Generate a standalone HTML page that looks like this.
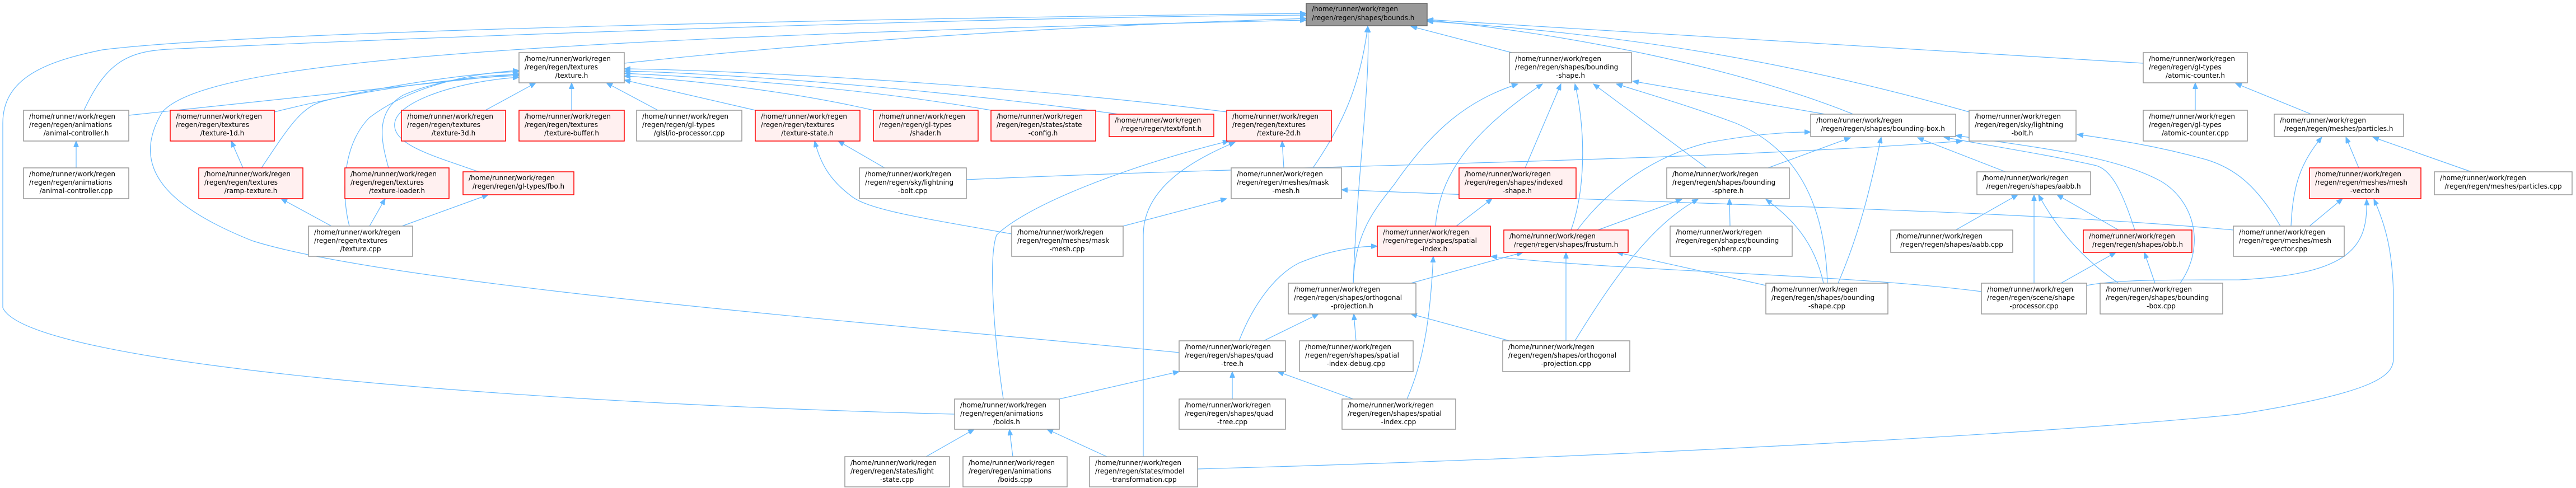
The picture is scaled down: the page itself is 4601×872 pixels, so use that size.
<!DOCTYPE html>
<html><head><meta charset="utf-8"><style>
html,body{margin:0;padding:0;background:#fff;}
svg{display:block;}
text{font-family:"DejaVu Sans","Liberation Sans",sans-serif;font-size:12px;fill:#000;}
.e{fill:none;stroke:#63b8ff;stroke-width:1.2;}
.n{fill:#fff;stroke:#999;stroke-width:1.5;}
.r{fill:#fff0f0;stroke:#ff0000;stroke-width:1.5;}
.g{fill:#999;stroke:#666;stroke-width:1.5;}
</style></head><body>
<svg width="4601" height="872" viewBox="0 0 4601 872" xmlns="http://www.w3.org/2000/svg">
<defs><marker id="a" markerUnits="userSpaceOnUse" markerWidth="12" markerHeight="9" refX="11" refY="4.5" orient="auto"><path d="M0,0 L11,4.5 L0,9 z" fill="#63b8ff" stroke="#63b8ff"/></marker></defs>
<g marker-end="url(#a)">
<path class="e" d="M1115,113 C1600,60 2100,40 2333,33"/>
<path class="e" d="M150,197 C190,110 230,92 300,88 C900,60 1800,30 2333,27"/>
<path class="e" d="M1705,740 C900,720 50,650 5,550 L5,220 C5,140 80,110 183,89 C500,50 1800,30 2333,24"/>
<path class="e" d="M2106,630 C1600,580 700,510 450,430 C300,370 230,300 290,200 C360,120 800,70 2333,36"/>
<path class="e" d="M2345,300 C2400,220 2430,150 2443,47"/>
<path class="e" d="M2417,506 C2425,300 2448,150 2443,47"/>
<path class="e" d="M2700,94 L2520,47"/>
<path class="e" d="M3310,204 C3100,120 2800,60 2549,36"/>
<path class="e" d="M3517,200 C3200,110 2900,60 2549,38"/>
<path class="e" d="M3828,113 L2549,35"/>
<path class="e" d="M1792,713 C1775,600 1765,460 1780,420 C1830,370 2000,300 2195,252"/>
<path class="e" d="M2042,816 L2042,420 C2042,340 2120,290 2206,254"/>
<path class="e" d="M2139,838 C2800,820 3600,780 4000,740 C4250,700 4275,670 4275,640 L4275,540 C4275,450 4260,400 4240,356"/>
<path class="e" d="M230,206 L927,132"/>
<path class="e" d="M490,200 C650,160 800,140 927,135"/>
<path class="e" d="M467,300 C520,220 540,190 580,180 C700,150 850,130 927,128"/>
<path class="e" d="M624,404 C610,350 610,260 660,210 C740,150 850,130 927,126"/>
<path class="e" d="M694,300 C680,250 670,200 720,170 C790,140 860,135 927,133"/>
<path class="e" d="M855,307 C780,280 700,260 705,220 C710,180 820,145 927,138"/>
<path class="e" d="M867,197 L957,148"/>
<path class="e" d="M1021,197 L1021,148"/>
<path class="e" d="M1175,197 L1083,148"/>
<path class="e" d="M1349,197 L1115,143"/>
<path class="e" d="M1560,197 C1400,160 1200,140 1115,136"/>
<path class="e" d="M1770,197 C1500,150 1200,135 1115,131"/>
<path class="e" d="M1998,204 C1600,150 1250,130 1115,127"/>
<path class="e" d="M2191,200 C1800,150 1300,125 1115,123"/>
<path class="e" d="M136,300 L136,252"/>
<path class="e" d="M434,300 L413,252"/>
<path class="e" d="M592,404 L502,355"/>
<path class="e" d="M660,404 L688,355"/>
<path class="e" d="M718,404 L872,348"/>
<path class="e" d="M1580,300 L1497,252"/>
<path class="e" d="M1807,418 C1650,390 1550,375 1520,350 C1480,320 1465,290 1455,252"/>
<path class="e" d="M2293,300 L2290,252"/>
<path class="e" d="M2006,404 L2191,355"/>
<path class="e" d="M1726,321 C2300,295 3000,290 3505,252"/>
<path class="e" d="M3989,411 C3600,375 3000,365 2396,339"/>
<path class="e" d="M1892,713 L2106,664"/>
<path class="e" d="M2201,713 L2201,664"/>
<path class="e" d="M1654,816 L1740,767"/>
<path class="e" d="M1809,816 L1803,767"/>
<path class="e" d="M1977,816 L1870,767"/>
<path class="e" d="M2417,713 L2282,664"/>
<path class="e" d="M2257,609 L2355,561"/>
<path class="e" d="M2213,609 C2240,540 2280,490 2320,470 C2380,445 2430,440 2460,440"/>
<path class="e" d="M2417,506 C2420,420 2450,380 2490,330 C2560,230 2620,180 2711,150"/>
<path class="e" d="M2564,404 C2570,320 2620,240 2755,150"/>
<path class="e" d="M2724,300 L2788,150"/>
<path class="e" d="M2806,411 C2835,330 2830,220 2813,150"/>
<path class="e" d="M3048,300 L2846,150"/>
<path class="e" d="M3264,506 C3260,380 3220,270 3100,220 C3020,190 2950,170 2887,150"/>
<path class="e" d="M3260,204 L2916,145"/>
<path class="e" d="M2601,404 L2665,355"/>
<path class="e" d="M2520,506 L2720,451"/>
<path class="e" d="M2797,609 L2797,451"/>
<path class="e" d="M3154,510 L2888,451"/>
<path class="e" d="M2513,713 C2545,640 2555,560 2560,458"/>
<path class="e" d="M3539,521 C3300,490 2900,485 2663,458"/>
<path class="e" d="M2817,411 C2870,340 2950,280 3050,255 C3130,240 3190,236 3234,236"/>
<path class="e" d="M3158,300 L3305,246"/>
<path class="e" d="M3283,506 C3320,420 3340,340 3360,245"/>
<path class="e" d="M2854,411 L3004,356"/>
<path class="e" d="M3090,404 L3089,355"/>
<path class="e" d="M2813,609 C2880,500 2950,400 3033,356"/>
<path class="e" d="M3257,506 C3240,430 3200,390 3154,356"/>
<path class="e" d="M2422,609 L2418,561"/>
<path class="e" d="M2696,609 L2520,561"/>
<path class="e" d="M3582,307 L3425,246"/>
<path class="e" d="M3813,411 C3790,340 3770,300 3740,295 C3650,275 3550,260 3472,245"/>
<path class="e" d="M3894,506 C3940,440 3920,360 3860,324 C3780,280 3650,265 3493,242"/>
<path class="e" d="M3493,411 L3604,348"/>
<path class="e" d="M3633,506 L3633,348"/>
<path class="e" d="M3784,506 C3730,470 3680,420 3641,348"/>
<path class="e" d="M3784,411 L3674,348"/>
<path class="e" d="M3681,506 L3779,451"/>
<path class="e" d="M3849,506 L3830,451"/>
<path class="e" d="M4125,404 L4184,355"/>
<path class="e" d="M3727,510 C3780,500 3850,500 4000,500 C4200,490 4230,440 4227,356"/>
<path class="e" d="M4092,404 C4095,330 4110,290 4147,245"/>
<path class="e" d="M4213,300 L4190,245"/>
<path class="e" d="M4414,307 L4238,245"/>
<path class="e" d="M3921,197 L3921,148"/>
<path class="e" d="M4128,204 L3993,149"/>
<path class="e" d="M4073,404 C4030,330 3990,300 3940,285 C3850,260 3780,250 3710,240"/>
</g>

<!-- nodes -->
<rect class="g" x="2333" y="6" width="216" height="40"/><text x="2343" y="20">/home/runner/work/regen</text><text x="2343" y="36">/regen/regen/shapes/bounds.h</text>

<rect class="n" x="927" y="94" width="188" height="54"/><text x="937" y="109">/home/runner/work/regen</text><text x="937" y="124">/regen/regen/textures</text><text x="1021" y="139" text-anchor="middle">/texture.h</text>

<rect class="n" x="42" y="197" width="188" height="55"/><text x="52" y="212">/home/runner/work/regen</text><text x="52" y="227">/regen/regen/animations</text><text x="136" y="242" text-anchor="middle">/animal-controller.h</text>

<rect class="r" x="304" y="197" width="186" height="55"/><text x="314" y="212">/home/runner/work/regen</text><text x="314" y="227">/regen/regen/textures</text><text x="397" y="242" text-anchor="middle">/texture-1d.h</text>

<rect class="r" x="717" y="197" width="186" height="55"/><text x="727" y="212">/home/runner/work/regen</text><text x="727" y="227">/regen/regen/textures</text><text x="810" y="242" text-anchor="middle">/texture-3d.h</text>

<rect class="r" x="927" y="197" width="188" height="55"/><text x="937" y="212">/home/runner/work/regen</text><text x="937" y="227">/regen/regen/textures</text><text x="1021" y="242" text-anchor="middle">/texture-buffer.h</text>

<rect class="n" x="1137" y="197" width="188" height="55"/><text x="1147" y="212">/home/runner/work/regen</text><text x="1147" y="227">/regen/regen/gl-types</text><text x="1231" y="242" text-anchor="middle">/glsl/io-processor.cpp</text>

<rect class="r" x="1349" y="197" width="187" height="55"/><text x="1359" y="212">/home/runner/work/regen</text><text x="1359" y="227">/regen/regen/textures</text><text x="1442" y="242" text-anchor="middle">/texture-state.h</text>

<rect class="r" x="1560" y="197" width="187" height="55"/><text x="1570" y="212">/home/runner/work/regen</text><text x="1570" y="227">/regen/regen/gl-types</text><text x="1653" y="242" text-anchor="middle">/shader.h</text>

<rect class="r" x="1770" y="197" width="187" height="55"/><text x="1780" y="212">/home/runner/work/regen</text><text x="1780" y="227">/regen/regen/states/state</text><text x="1863" y="242" text-anchor="middle">-config.h</text>

<rect class="r" x="1981" y="204" width="187" height="40"/><text x="1991" y="219">/home/runner/work/regen</text><text x="2074" y="234" text-anchor="middle">/regen/regen/text/font.h</text>

<rect class="r" x="2191" y="197" width="187" height="55"/><text x="2201" y="212">/home/runner/work/regen</text><text x="2201" y="227">/regen/regen/textures</text><text x="2284" y="242" text-anchor="middle">/texture-2d.h</text>

<rect class="n" x="42" y="300" width="188" height="55"/><text x="52" y="315">/home/runner/work/regen</text><text x="52" y="330">/regen/regen/animations</text><text x="136" y="345" text-anchor="middle">/animal-controller.cpp</text>

<rect class="r" x="355" y="300" width="186" height="55"/><text x="365" y="315">/home/runner/work/regen</text><text x="365" y="330">/regen/regen/textures</text><text x="448" y="345" text-anchor="middle">/ramp-texture.h</text>

<rect class="r" x="616" y="300" width="186" height="55"/><text x="626" y="315">/home/runner/work/regen</text><text x="626" y="330">/regen/regen/textures</text><text x="709" y="345" text-anchor="middle">/texture-loader.h</text>

<rect class="r" x="827" y="307" width="198" height="41"/><text x="837" y="322">/home/runner/work/regen</text><text x="926" y="337" text-anchor="middle">/regen/regen/gl-types/fbo.h</text>

<rect class="n" x="551" y="404" width="186" height="54"/><text x="561" y="419">/home/runner/work/regen</text><text x="561" y="434">/regen/regen/textures</text><text x="644" y="449" text-anchor="middle">/texture.cpp</text>

<rect class="n" x="1535" y="300" width="191" height="55"/><text x="1545" y="315">/home/runner/work/regen</text><text x="1545" y="330">/regen/regen/sky/lightning</text><text x="1630" y="345" text-anchor="middle">-bolt.cpp</text>

<rect class="n" x="2199" y="300" width="197" height="55"/><text x="2209" y="315">/home/runner/work/regen</text><text x="2209" y="330">/regen/regen/meshes/mask</text><text x="2297" y="345" text-anchor="middle">-mesh.h</text>

<rect class="n" x="1807" y="404" width="199" height="54"/><text x="1817" y="419">/home/runner/work/regen</text><text x="1817" y="434">/regen/regen/meshes/mask</text><text x="1906" y="449" text-anchor="middle">-mesh.cpp</text>

<rect class="n" x="2106" y="609" width="190" height="55"/><text x="2116" y="624">/home/runner/work/regen</text><text x="2116" y="639">/regen/regen/shapes/quad</text><text x="2201" y="654" text-anchor="middle">-tree.h</text>

<rect class="n" x="1705" y="713" width="187" height="54"/><text x="1715" y="728">/home/runner/work/regen</text><text x="1715" y="743">/regen/regen/animations</text><text x="1798" y="758" text-anchor="middle">/boids.h</text>

<rect class="n" x="2106" y="713" width="190" height="54"/><text x="2116" y="728">/home/runner/work/regen</text><text x="2116" y="743">/regen/regen/shapes/quad</text><text x="2201" y="758" text-anchor="middle">-tree.cpp</text>

<rect class="n" x="1509" y="816" width="187" height="54"/><text x="1519" y="831">/home/runner/work/regen</text><text x="1519" y="846">/regen/regen/states/light</text><text x="1602" y="861" text-anchor="middle">-state.cpp</text>

<rect class="n" x="1720" y="816" width="186" height="54"/><text x="1730" y="831">/home/runner/work/regen</text><text x="1730" y="846">/regen/regen/animations</text><text x="1813" y="861" text-anchor="middle">/boids.cpp</text>

<rect class="n" x="1946" y="816" width="193" height="54"/><text x="1956" y="831">/home/runner/work/regen</text><text x="1956" y="846">/regen/regen/states/model</text><text x="2042" y="861" text-anchor="middle">-transformation.cpp</text>

<rect class="n" x="2696" y="94" width="218" height="54"/><text x="2706" y="109">/home/runner/work/regen</text><text x="2706" y="124">/regen/regen/shapes/bounding</text><text x="2805" y="139" text-anchor="middle">-shape.h</text>

<rect class="n" x="3234" y="204" width="259" height="40"/><text x="3244" y="219">/home/runner/work/regen</text><text x="3363" y="234" text-anchor="middle">/regen/regen/shapes/bounding-box.h</text>

<rect class="r" x="2606" y="300" width="209" height="55"/><text x="2616" y="315">/home/runner/work/regen</text><text x="2616" y="330">/regen/regen/shapes/indexed</text><text x="2710" y="345" text-anchor="middle">-shape.h</text>

<rect class="n" x="2977" y="300" width="219" height="55"/><text x="2987" y="315">/home/runner/work/regen</text><text x="2987" y="330">/regen/regen/shapes/bounding</text><text x="3086" y="345" text-anchor="middle">-sphere.h</text>

<rect class="r" x="2460" y="404" width="202" height="54"/><text x="2470" y="419">/home/runner/work/regen</text><text x="2470" y="434">/regen/regen/shapes/spatial</text><text x="2561" y="449" text-anchor="middle">-index.h</text>

<rect class="r" x="2686" y="411" width="222" height="40"/><text x="2696" y="426">/home/runner/work/regen</text><text x="2797" y="441" text-anchor="middle">/regen/regen/shapes/frustum.h</text>

<rect class="n" x="2983" y="404" width="218" height="54"/><text x="2993" y="419">/home/runner/work/regen</text><text x="2993" y="434">/regen/regen/shapes/bounding</text><text x="3092" y="449" text-anchor="middle">-sphere.cpp</text>

<rect class="n" x="3377" y="411" width="218" height="40"/><text x="3387" y="426">/home/runner/work/regen</text><text x="3486" y="441" text-anchor="middle">/regen/regen/shapes/aabb.cpp</text>

<rect class="n" x="2301" y="506" width="228" height="55"/><text x="2311" y="521">/home/runner/work/regen</text><text x="2311" y="536">/regen/regen/shapes/orthogonal</text><text x="2415" y="551" text-anchor="middle">-projection.h</text>

<rect class="n" x="3154" y="506" width="218" height="55"/><text x="3164" y="521">/home/runner/work/regen</text><text x="3164" y="536">/regen/regen/shapes/bounding</text><text x="3263" y="551" text-anchor="middle">-shape.cpp</text>

<rect class="n" x="2321" y="609" width="203" height="55"/><text x="2331" y="624">/home/runner/work/regen</text><text x="2331" y="639">/regen/regen/shapes/spatial</text><text x="2422" y="654" text-anchor="middle">-index-debug.cpp</text>

<rect class="n" x="2684" y="609" width="227" height="55"/><text x="2694" y="624">/home/runner/work/regen</text><text x="2694" y="639">/regen/regen/shapes/orthogonal</text><text x="2797" y="654" text-anchor="middle">-projection.cpp</text>

<rect class="n" x="2397" y="713" width="203" height="54"/><text x="2407" y="728">/home/runner/work/regen</text><text x="2407" y="743">/regen/regen/shapes/spatial</text><text x="2498" y="758" text-anchor="middle">-index.cpp</text>

<rect class="n" x="3828" y="94" width="186" height="54"/><text x="3838" y="109">/home/runner/work/regen</text><text x="3838" y="124">/regen/regen/gl-types</text><text x="3921" y="139" text-anchor="middle">/atomic-counter.h</text>

<rect class="n" x="3517" y="197" width="191" height="55"/><text x="3527" y="212">/home/runner/work/regen</text><text x="3527" y="227">/regen/regen/sky/lightning</text><text x="3612" y="242" text-anchor="middle">-bolt.h</text>

<rect class="n" x="3828" y="197" width="186" height="55"/><text x="3838" y="212">/home/runner/work/regen</text><text x="3838" y="227">/regen/regen/gl-types</text><text x="3921" y="242" text-anchor="middle">/atomic-counter.cpp</text>

<rect class="n" x="4062" y="204" width="231" height="40"/><text x="4072" y="219">/home/runner/work/regen</text><text x="4177" y="234" text-anchor="middle">/regen/regen/meshes/particles.h</text>

<rect class="n" x="3531" y="307" width="203" height="41"/><text x="3541" y="322">/home/runner/work/regen</text><text x="3632" y="337" text-anchor="middle">/regen/regen/shapes/aabb.h</text>

<rect class="r" x="4125" y="300" width="199" height="55"/><text x="4135" y="315">/home/runner/work/regen</text><text x="4135" y="330">/regen/regen/meshes/mesh</text><text x="4224" y="345" text-anchor="middle">-vector.h</text>

<rect class="n" x="4348" y="307" width="246" height="41"/><text x="4358" y="322">/home/runner/work/regen</text><text x="4471" y="337" text-anchor="middle">/regen/regen/meshes/particles.cpp</text>

<rect class="r" x="3721" y="411" width="194" height="40"/><text x="3731" y="426">/home/runner/work/regen</text><text x="3818" y="441" text-anchor="middle">/regen/regen/shapes/obb.h</text>

<rect class="n" x="3989" y="404" width="198" height="54"/><text x="3999" y="419">/home/runner/work/regen</text><text x="3999" y="434">/regen/regen/meshes/mesh</text><text x="4088" y="449" text-anchor="middle">-vector.cpp</text>

<rect class="n" x="3539" y="506" width="188" height="55"/><text x="3549" y="521">/home/runner/work/regen</text><text x="3549" y="536">/regen/regen/scene/shape</text><text x="3633" y="551" text-anchor="middle">-processor.cpp</text>

<rect class="n" x="3751" y="506" width="219" height="55"/><text x="3761" y="521">/home/runner/work/regen</text><text x="3761" y="536">/regen/regen/shapes/bounding</text><text x="3860" y="551" text-anchor="middle">-box.cpp</text>
</svg>
</body></html>
